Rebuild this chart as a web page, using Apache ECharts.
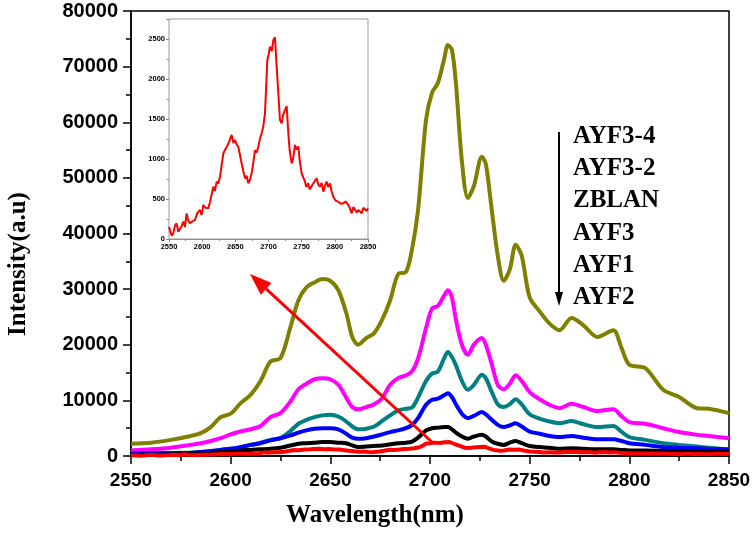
<!DOCTYPE html>
<html><head><meta charset="utf-8">
<script src="https://cdn.jsdelivr.net/npm/echarts@6/dist/echarts.min.js"></script>
<style>html,body{margin:0;padding:0;background:#fff}#c{width:754px;height:541px}</style>
</head><body><div id="c"></div>
<script>
// ---- data ----
const wavelengths = [2550,2560,2570,2580,2585,2590,2595,2600,2605,2610,2615,2620,2625,2630,2634,2638,2642,2646,2650,2654,2658,2661,2664,2668,2672,2676,2680,2684,2688,2691,2694,2698,2701,2704,2707,2709,2711,2713,2716,2719,2722,2726,2728,2731,2734,2737,2740,2743,2746,2750,2755,2760,2765,2771,2777,2784,2792,2796,2800,2808,2817,2825,2834,2840,2850];
const ayf34 = [2200,2400,2900,3600,4100,5200,7000,7600,9500,11000,13500,17000,17600,23200,28000,30300,31200,31800,31500,29800,25700,21400,20000,21200,22100,24500,28000,32700,33100,37200,44200,60400,65300,67100,71200,73900,73000,67000,53000,46400,48500,53800,52500,44200,36000,31500,33500,38000,36000,28500,26000,23800,22600,24800,23500,21400,22600,19500,16400,15800,11900,10600,8600,8500,7700];
const ayf32 = [1000,1200,1500,2000,2300,2700,3200,3900,4400,4800,5400,7000,7700,9800,12000,13000,13800,14000,13800,12800,10500,8800,8400,8800,9300,10400,12800,14000,14500,15200,17500,23000,26500,27000,28800,29800,28500,24500,20000,18200,20000,21200,20000,16500,12800,12000,13000,14500,13500,11500,10200,9200,8600,9400,8800,8100,8400,7200,6100,5800,5000,4300,3800,3600,3200];
const zblan = [500,500,550,600,650,800,1100,1300,1600,2000,2400,2900,3200,4500,5800,6500,7000,7300,7400,7100,6200,5300,4800,4900,5300,6300,7300,8200,8500,8700,10500,13500,14800,15200,17500,18700,17800,16300,13500,11900,12800,14600,14000,11500,9300,8800,9300,10200,9300,7500,6700,6200,5900,6300,5700,5200,5400,4400,3400,2900,2300,2000,1700,1500,1100];
const ayf3 = [400,450,500,600,700,900,1100,1300,1600,2000,2300,2800,3200,3700,4200,4600,4900,5000,5000,4800,4000,3300,3100,3200,3500,3900,4300,4600,5000,5600,6800,9200,10100,10300,10900,11300,10600,9300,7600,6800,7200,7900,7500,6500,5600,5200,5500,5900,5300,4400,4000,3600,3400,3600,3300,3000,3000,2700,2300,2000,1600,1500,1400,1300,1200];
const ayf1 = [200,250,300,400,500,600,700,800,1000,1100,1200,1300,1500,1900,2200,2300,2400,2500,2500,2400,2300,1900,1600,1700,1800,1900,2100,2300,2400,2600,3300,4600,5000,5100,5200,5200,4800,4200,3500,3100,3500,3800,3500,2600,2200,2000,2400,2700,2300,1800,1600,1500,1300,1400,1300,1200,1200,1100,1000,1000,900,900,800,800,700];
const ayf2Wl = [2550,2551.5,2554,2556.5,2559,2561.5,2564,2566.6,2569,2571.6,2574,2576.6,2579,2581.7,2585,2589,2593,2596.7,2599,2601.8,2605,2609.3,2612,2614.3,2616.8,2619,2621.9,2624,2626.9,2629,2631.9,2634,2637,2640,2642,2644.5,2647,2649.5,2652,2654.5,2657,2659.5,2662,2664.6,2667,2669.6,2672,2674.6,2677,2679.6,2682,2684.7,2687,2689.7,2692,2694.7,2696.5,2698.2,2700,2702.3,2705,2707.3,2709.8,2712.3,2715,2717.3,2719.9,2722,2724.9,2727.4,2729.9,2732,2734.9,2737,2740,2742,2745,2747,2750,2752,2755,2757,2760,2762,2765,2768,2772.6,2775,2777.6,2780,2782.7,2785,2787.7,2790,2792.7,2795,2797.7,2801,2805.3,2809,2812.8,2816,2820.4,2823,2825.4,2828,2830.4,2833,2835.5,2838,2840.5,2843,2845.5,2848,2850];
const ayf2 = [150,112,40,70,170,196,90,112,160,217,150,320,230,196,220,237,330,362,300,425,390,383,470,487,654,600,717,690,779,900,1071,1050,1154,1200,1250,1300,1200,1237,1180,1154,1050,946,850,758,790,696,740,821,950,1112,1080,1154,1250,1321,1400,1571,1900,2237,2300,2404,2350,2487,2521,2154,1800,1487,1446,1550,1612,1662,1321,1100,946,1000,1175,1120,1154,980,821,780,717,650,696,620,612,700,758,680,654,700,592,660,717,650,696,600,529,480,467,440,446,470,425,380,321,400,383,330,362,340,321,390,404,350,383];
const xTickLabels = [2550,2600,2650,2700,2750,2800,2850];
const yTickLabels = [0,10000,20000,30000,40000,50000,60000,70000,80000];
const insetYTickLabels = [0,500,1000,1500,2000,2500];
const legendNames = ['AYF3-4','AYF3-2','ZBLAN','AYF3','AYF1','AYF2'];

// ---- build ----
const pair = (xs, ys) => xs.map((x, i) => [x, ys[i]]);
const mainSeries = [
  {name:'AYF3-4', values: ayf34, color:'#808000'},
  {name:'AYF3-2', values: ayf32, color:'#FF00FF'},
  {name:'ZBLAN', values: zblan, color:'#008080'},
  {name:'AYF3', values: ayf3, color:'#0000FF'},
  {name:'AYF1', values: ayf1, color:'#000000'}
];
const series = mainSeries.map(s => ({
  name: s.name, type:'line', xAxisIndex:0, yAxisIndex:0,
  data: pair(wavelengths, s.values), showSymbol:false, smooth:0.3,
  lineStyle:{color:s.color, width:4}, itemStyle:{color:s.color}, z:2
}));
series.push({name:'AYF2', type:'line', xAxisIndex:0, yAxisIndex:0,
  data: pair(ayf2Wl, ayf2), showSymbol:false, smooth:false,
  lineStyle:{color:'#FF0000', width:4}, itemStyle:{color:'#FF0000'}, z:3});
series.push({name:'AYF2 inset', type:'line', xAxisIndex:1, yAxisIndex:1,
  data: pair(ayf2Wl, ayf2), showSymbol:false, smooth:false,
  lineStyle:{color:'#FF0000', width:2}, itemStyle:{color:'#FF0000'}, z:12});

const axisFont = {color:'#000', fontFamily:'Liberation Sans, Arial', fontWeight:'bold'};
const serifBold = {fontFamily:'Liberation Serif, Times New Roman', fontWeight:'bold', fill:'#000'};

const legendGraphics = legendNames.map((n, i) => ({
  type:'text', left:573, top:137 + i*32.2 - 13, z:20,
  style:Object.assign({text:n, fontSize:25}, serifBold)
}));

// red arrow geometry (annotation)
const tail = [433, 443], tip = [250, 274];
const dx = tip[0]-tail[0], dy = tip[1]-tail[1], L = Math.hypot(dx, dy);
const ux = dx/L, uy = dy/L, hl = 22, hw = 8;
const bx = tip[0]-ux*hl, by = tip[1]-uy*hl;

const option = {
  animation:false,
  backgroundColor:'#fff',
  grid:[
    {left:131, top:11, width:598, height:445, show:true, borderColor:'#000', borderWidth:1.5, backgroundColor:'transparent', z:1},
    {left:169, top:19, width:199, height:220, show:true, borderColor:'#999', borderWidth:1, backgroundColor:'#fff', z:10}
  ],
  xAxis:[
    {type:'value', gridIndex:0, min:2550, max:2850, interval:50,
     axisLine:{lineStyle:{color:'#000', width:1.5}},
     axisTick:{show:true, inside:false, length:8, lineStyle:{color:'#000', width:1.5}},
     minorTick:{show:true, splitNumber:2, length:5, lineStyle:{color:'#000', width:1.5}},
     splitLine:{show:false},
     axisLabel:Object.assign({fontSize:19, margin:15,
       formatter: v => xTickLabels.includes(v) ? String(v) : ''}, axisFont)},
    {type:'value', gridIndex:1, min:2550, max:2850, interval:50,
     axisLine:{lineStyle:{color:'#888', width:1}},
     axisTick:{show:true, length:3, lineStyle:{color:'#888'}},
     minorTick:{show:true, splitNumber:2, length:2, lineStyle:{color:'#888'}},
     splitLine:{show:false},
     axisLabel:Object.assign({fontSize:7.5, margin:4,
       formatter: v => xTickLabels.includes(v) ? String(v) : ''}, axisFont)}
  ],
  yAxis:[
    {type:'value', gridIndex:0, min:0, max:80000, interval:10000,
     axisLine:{show:true, lineStyle:{color:'#000', width:1.5}},
     axisTick:{show:true, inside:false, length:8, lineStyle:{color:'#000', width:1.5}},
     minorTick:{show:true, splitNumber:2, length:5, lineStyle:{color:'#000', width:1.5}},
     splitLine:{show:false},
     axisLabel:Object.assign({fontSize:20, margin:13,
       formatter: v => yTickLabels.includes(v) ? String(v) : ''}, axisFont)},
    {type:'value', gridIndex:1, min:0, max:2750, interval:500,
     axisLine:{show:true, lineStyle:{color:'#888', width:1}},
     axisTick:{show:true, length:3, lineStyle:{color:'#888'}},
     minorTick:{show:true, splitNumber:2, length:2, lineStyle:{color:'#888'}},
     splitLine:{show:false},
     axisLabel:Object.assign({fontSize:7.5, margin:4,
       formatter: v => insetYTickLabels.includes(v) ? String(v) : ''}, axisFont)}
  ],
  series: series,
  graphic: [
    {type:'text', x:19, y:264, rotation:Math.PI/2, z:20,
     style:Object.assign({text:'Intensity(a.u)', fontSize:25, align:'center', verticalAlign:'middle'}, serifBold)},
    {type:'text', x:375, y:516, z:20,
     style:Object.assign({text:'Wavelength(nm)', fontSize:25, align:'center', verticalAlign:'middle'}, serifBold)},
    {type:'line', z:20, shape:{x1:559, y1:132, x2:559, y2:294}, style:{stroke:'#000', lineWidth:2}},
    {type:'polygon', z:20, shape:{points:[[559,306],[555,292],[563,292]]}, style:{fill:'#000'}},
    {type:'line', z:25, shape:{x1:tail[0], y1:tail[1], x2:bx, y2:by}, style:{stroke:'#FF0000', lineWidth:3}},
    {type:'polygon', z:25, shape:{points:[tip, [bx - uy*hw, by + ux*hw], [bx + uy*hw, by - ux*hw]]}, style:{fill:'#FF0000'}}
  ].concat(legendGraphics)
};
const chart = echarts.init(document.getElementById('c'), null, {renderer:'canvas'});
chart.setOption(option);
</script></body></html>
